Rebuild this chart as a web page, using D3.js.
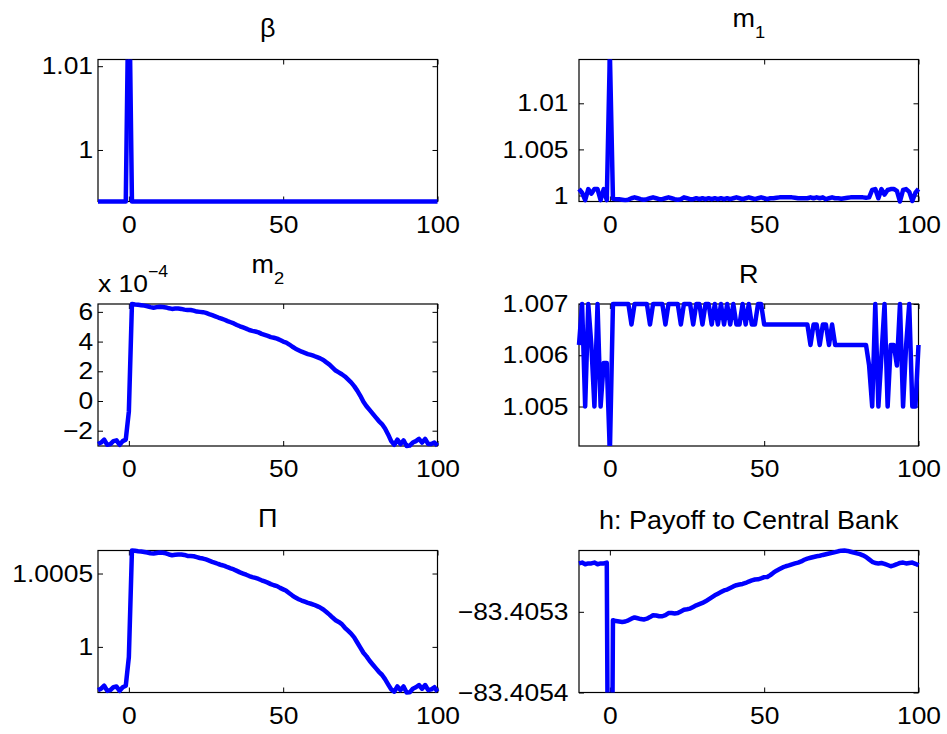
<!DOCTYPE html>
<html><head><meta charset="utf-8">
<script src="https://cdn.jsdelivr.net/npm/d3@7"></script>
<style>
body{margin:0;background:#fff}
svg{display:block}
text{font-family:"Liberation Sans",Arial,Helvetica,sans-serif;fill:#000}
</style>
</head><body>
<svg id="c" width="947" height="734"></svg>
<script>
// ---------- data ----------
const periods = d3.range(-10, 101);   // time index -10 .. 100
const xTicks = [0, 50, 100];
const xDomain = [-10, 100];

const beta = [
 0.99385,0.99385,0.99385,0.99385,0.99385,0.99385,0.99385,0.99385,0.99385,0.99385,
 1.0224,
 0.99385,0.99385,0.99385,0.99385,0.99385,0.99385,0.99385,0.99385,0.99385,0.99385,
 0.99385,0.99385,0.99385,0.99385,0.99385,0.99385,0.99385,0.99385,0.99385,0.99385,
 0.99385,0.99385,0.99385,0.99385,0.99385,0.99385,0.99385,0.99385,0.99385,0.99385,
 0.99385,0.99385,0.99385,0.99385,0.99385,0.99385,0.99385,0.99385,0.99385,0.99385,
 0.99385,0.99385,0.99385,0.99385,0.99385,0.99385,0.99385,0.99385,0.99385,0.99385,
 0.99385,0.99385,0.99385,0.99385,0.99385,0.99385,0.99385,0.99385,0.99385,0.99385,
 0.99385,0.99385,0.99385,0.99385,0.99385,0.99385,0.99385,0.99385,0.99385,0.99385,
 0.99385,0.99385,0.99385,0.99385,0.99385,0.99385,0.99385,0.99385,0.99385,0.99385,
 0.99385,0.99385,0.99385,0.99385,0.99385,0.99385,0.99385,0.99385,0.99385,0.99385,
 0.99385,0.99385,0.99385,0.99385,0.99385,0.99385,0.99385,0.99385,0.99385,0.99385
];
const betaLimits = [0.99385, 1.0108];
const betaTicks = [1, 1.01];
const betaTickLabels = ["1", "1.01"];

const m1 = [
 1.0007,1.0003,0.9995,1.0007,1.0002,1.0007,1.0007,0.9995,1.0007,0.9995,
 1.0155,
 0.99965,0.9996,0.9996,0.99955,0.9995,0.99955,0.9997,0.9998,0.9997,0.9996,
 0.99955,0.9996,0.9997,0.9998,0.9997,0.9996,0.9996,0.9997,0.9998,0.9997,
 0.9996,0.99955,0.9996,0.9998,0.9997,0.9996,0.9996,0.9997,0.9996,0.9997,
 0.9996,0.9997,0.9996,0.9997,0.9996,0.9997,0.9996,0.9997,0.9996,0.9997,
 0.9998,0.9997,0.9996,0.9997,0.9998,0.9997,0.9996,0.9997,0.9998,0.9997,
 0.9996,0.9997,0.9997,0.99975,0.9998,0.9998,0.9998,0.9998,0.9998,0.99975,
 0.9997,0.9997,0.9997,0.9997,0.9998,0.9997,0.9998,0.9997,0.9998,0.9996,
 0.9997,0.9998,0.9997,0.9997,0.99965,0.9997,0.99975,0.9998,0.9998,0.9998,
 0.9998,0.9998,0.99975,0.9998,1.0006,1.0007,0.9997,1.0007,1.0001,1.0006,
 1.0007,1.0007,1.0005,0.99935,1.0006,1.0007,1.0004,0.9994,1.0003,1.0007
];
const m1Limits = [0.99935, 1.01475];
const m1Ticks = [1, 1.005, 1.01];
const m1TickLabels = ["1", "1.005", "1.01"];

const m2 = [
 -2.9e-4,-2.8e-4,-2.6e-4,-2.95e-4,-2.9e-4,-2.7e-4,-2.65e-4,-2.95e-4,-2.7e-4,-2.6e-4,
 -0.7e-4,
 6.53e-4,6.5e-4,6.48e-4,6.45e-4,6.42e-4,6.38e-4,6.32e-4,6.28e-4,6.32e-4,6.35e-4,
 6.33e-4,6.3e-4,6.24e-4,6.2e-4,6.22e-4,6.23e-4,6.2e-4,6.15e-4,6.12e-4,6.13e-4,
 6.08e-4,6.02e-4,6.0e-4,5.98e-4,5.93e-4,5.85e-4,5.78e-4,5.7e-4,5.62e-4,5.55e-4,
 5.47e-4,5.38e-4,5.3e-4,5.22e-4,5.12e-4,5.03e-4,4.95e-4,4.87e-4,4.78e-4,4.72e-4,
 4.68e-4,4.62e-4,4.52e-4,4.45e-4,4.38e-4,4.3e-4,4.26e-4,4.2e-4,4.1e-4,4.0e-4,
 3.93e-4,3.8e-4,3.65e-4,3.52e-4,3.42e-4,3.32e-4,3.24e-4,3.16e-4,3.1e-4,3.03e-4,
 2.95e-4,2.87e-4,2.76e-4,2.6e-4,2.45e-4,2.25e-4,2.05e-4,1.93e-4,1.8e-4,1.65e-4,
 1.45e-4,1.25e-4,1.0e-4,0.7e-4,0.35e-4,-0.05e-4,-0.35e-4,-0.6e-4,-0.85e-4,-1.1e-4,
 -1.35e-4,-1.55e-4,-1.85e-4,-2.25e-4,-2.7e-4,-2.95e-4,-2.6e-4,-2.9e-4,-2.65e-4,-3.03e-4,
 -3.0e-4,-2.8e-4,-2.7e-4,-2.55e-4,-2.8e-4,-2.55e-4,-2.9e-4,-2.9e-4,-2.8e-4,-3.0e-4
];
const m2Limits = [-3.03e-4, 6.53e-4];
const m2Ticks = [-2e-4, 0, 2e-4, 4e-4, 6e-4];
const m2TickLabels = ["\u22122", "0", "2", "4", "6"];

const R = [
 1.0062,1.007,1.005,1.007,1.0062,1.005,1.007,1.005,1.00585,1.00585,
 1.0041,
 1.007,1.007,1.007,1.007,1.007,1.007,1.0066,1.007,1.007,1.007,
 1.007,1.007,1.0066,1.007,1.007,1.007,1.007,1.0066,1.007,1.007,
 1.007,1.007,1.0066,1.007,1.007,1.007,1.0066,1.007,1.007,1.0066,
 1.007,1.007,1.0066,1.007,1.0066,1.007,1.0066,1.007,1.0066,1.007,
 1.0066,1.0066,1.007,1.0066,1.007,1.0066,1.0066,1.007,1.007,1.0066,
 1.0066,1.0066,1.0066,1.0066,1.0066,1.0066,1.0066,1.0066,1.0066,1.0066,
 1.0066,1.0066,1.0066,1.0066,1.0062,1.0066,1.0066,1.0062,1.0066,1.0066,
 1.0062,1.0066,1.0062,1.0062,1.0062,1.0062,1.0062,1.0062,1.0062,1.0062,
 1.0062,1.0062,1.0062,1.0058,1.005,1.007,1.005,1.006,1.007,1.005,
 1.0062,1.0062,1.0058,1.007,1.005,1.0062,1.007,1.005,1.005,1.0062
];
const RLimits = [1.00423, 1.007];
const RTicks = [1.005, 1.006, 1.007];
const RTickLabels = ["1.005", "1.006", "1.007"];

const Pi = [
 0.999705,0.999715,0.999735,0.9997,0.999705,0.999725,0.99973,0.9997,0.999725,0.999735,
 0.999931,
 1.000657,1.000655,1.000652,1.00065,1.000647,1.000643,1.000638,1.000636,1.00064,1.000643,
 1.000642,1.000638,1.00063,1.000625,1.000628,1.00063,1.00063,1.000627,1.00062,1.00062,
 1.000618,1.000612,1.000606,1.000602,1.000596,1.000588,1.00058,1.000573,1.000565,1.000558,
 1.000552,1.000543,1.000535,1.000528,1.000518,1.000508,1.0005,1.000492,1.000483,1.000476,
 1.00047,1.000463,1.000454,1.000446,1.000438,1.000428,1.00042,1.000414,1.000402,1.000392,
 1.000382,1.000366,1.00035,1.000336,1.000325,1.000316,1.000308,1.0003,1.000294,1.000287,
 1.000278,1.000268,1.000255,1.000238,1.00022,1.0002,1.000182,1.00017,1.000155,1.00013,
 1.00011,1.00009,1.000065,1.00003,0.999995,0.99996,0.999935,0.999905,0.99988,0.999855,
 0.99983,0.99981,0.99978,0.999745,0.99971,0.999695,0.99973,0.999705,0.99973,0.999689,
 0.99969,0.999715,0.999725,0.99974,0.999715,0.99974,0.999705,0.99971,0.999725,0.999695
];
const PiLimits = [0.999689, 1.000657];
const PiTicks = [1, 1.0005];
const PiTickLabels = ["1", "1.0005"];

const h = [
 -83.40524,-83.405239,-83.405241,-83.40524,-83.40524,-83.405239,-83.405241,-83.40524,-83.40524,-83.405239,
 -83.4060,
 -83.4053104,-83.4053115,-83.405312,-83.4053125,-83.405312,-83.4053105,-83.4053085,-83.405307,-83.405308,-83.405309,
 -83.4053095,-83.4053085,-83.4053065,-83.4053042,-83.4053045,-83.4053055,-83.4053055,-83.405304,-83.4053015,-83.4053015,
 -83.405302,-83.4053015,-83.4052995,-83.4052975,-83.4052968,-83.405296,-83.405294,-83.405292,-83.4052905,-83.405289,
 -83.405287,-83.4052845,-83.405282,-83.4052795,-83.4052775,-83.4052755,-83.4052735,-83.4052724,-83.4052705,-83.4052685,
 -83.405267,-83.4052662,-83.4052655,-83.4052642,-83.4052625,-83.405261,-83.40526,-83.4052597,-83.4052585,-83.405257,
 -83.4052568,-83.4052545,-83.4052515,-83.405249,-83.405247,-83.405245,-83.4052435,-83.4052425,-83.4052412,-83.40524,
 -83.405239,-83.4052375,-83.4052355,-83.405234,-83.405233,-83.405232,-83.4052311,-83.4052305,-83.4052295,-83.4052286,
 -83.4052278,-83.405227,-83.405226,-83.405225,-83.4052242,-83.405224,-83.4052245,-83.4052255,-83.4052265,-83.4052275,
 -83.4052285,-83.40523,-83.405232,-83.405235,-83.405238,-83.4052395,-83.40524,-83.4052395,-83.4052405,-83.405242,
 -83.4052435,-83.4052425,-83.405241,-83.4052394,-83.405239,-83.40524,-83.4052394,-83.405239,-83.4052405,-83.4052423
];
const hLimits = [-83.4054, -83.405224];
const hTicks = [-83.4054, -83.4053];
const hTickLabels = ["\u221283.4054", "\u221283.4053"];

// ---------- layout ----------
const colX = [98, 579];
const rowY = [59.5, 304, 550.5];
const labelPad = [4.5, 9.5];
const W = 339.5, H = 142;
const SX = 1.1; // horizontal text stretch of the original figure

const panels = [
  {data: beta, lim: betaLimits, ticks: betaTicks, labels: betaTickLabels, col: 0, row: 0, title: "β", kind: "serif", tb: 37},
  {data: m1, lim: m1Limits, ticks: m1Ticks, labels: m1TickLabels, col: 1, row: 0, title: "m", sub: "1", tb: 27},
  {data: m2, lim: m2Limits, ticks: m2Ticks, labels: m2TickLabels, col: 0, row: 1, title: "m", sub: "2", tb: 273, exp: true},
  {data: R, lim: RLimits, ticks: RTicks, labels: RTickLabels, col: 1, row: 1, title: "R", tb: 283},
  {data: Pi, lim: PiLimits, ticks: PiTicks, labels: PiTickLabels, col: 0, row: 2, title: "Π", kind: "serif", tb: 527},
  {data: h, lim: hLimits, ticks: hTicks, labels: hTickLabels, col: 1, row: 2, title: "h: Payoff to Central Bank", tb: 529}
];

// clip a polyline geometrically to a rectangle (like MATLAB's axes clipping)
function clipSeg(a, b, r) {
  const dx = b[0] - a[0], dy = b[1] - a[1];
  let t0 = 0, t1 = 1;
  const P = [-dx, dx, -dy, dy];
  const Q = [a[0] - r.x0, r.x1 - a[0], a[1] - r.y0, r.y1 - a[1]];
  for (let i = 0; i < 4; i++) {
    if (P[i] === 0) { if (Q[i] < 0) return null; }
    else {
      const t = Q[i] / P[i];
      if (P[i] < 0) { if (t > t1) return null; if (t > t0) t0 = t; }
      else { if (t < t0) return null; if (t < t1) t1 = t; }
    }
  }
  return {p: [a[0] + t0 * dx, a[1] + t0 * dy], q: [a[0] + t1 * dx, a[1] + t1 * dy], t0, t1};
}
function clipPolyline(pts, r) {
  const out = []; let cur = null;
  for (let i = 0; i < pts.length - 1; i++) {
    const c = clipSeg(pts[i], pts[i + 1], r);
    if (!c) { cur = null; continue; }
    if (cur && c.t0 === 0) cur.push(c.q);
    else { cur = [c.p, c.q]; out.push(cur); }
    if (c.t1 < 1) cur = null;
  }
  return out;
}

const svg = d3.select("#c");
svg.append("rect").attr("width", 947).attr("height", 734).attr("fill", "#fff");

panels.forEach(p => {
  const x0 = colX[p.col], y0 = rowY[p.row];
  const x = d3.scaleLinear().domain(xDomain).range([0, W]);
  const y = d3.scaleLinear().domain(p.lim).range([H, 0]);
  const g = svg.append("g").attr("transform", `translate(${x0},${y0})`);

  g.append("rect").attr("width", W).attr("height", H)
    .attr("fill", "#fff").attr("stroke", "#000").attr("stroke-width", 1.2);

  const fmtY = d => p.labels[p.ticks.indexOf(d)];
  const styleAxis = sel => {
    sel.select(".domain").remove();
    sel.selectAll("line").attr("stroke", "#000").attr("stroke-width", 1);
    sel.selectAll("text").attr("font-size", 24)
      .attr("font-family", '"Liberation Sans", Arial, sans-serif')
      .attr("fill", "#000");
  };

  g.append("g").attr("transform", `translate(0,${H})`)
    .call(d3.axisBottom(x).tickValues(xTicks).tickSizeInner(-5).tickSizeOuter(0)
      .tickPadding(14).tickFormat(d3.format("d")))
    .call(styleAxis)
    .call(s => s.selectAll("text").attr("transform", `scale(${SX},1)`));
  g.append("g")
    .call(d3.axisTop(x).tickValues(xTicks).tickSizeInner(-5).tickSizeOuter(0).tickFormat(""))
    .call(styleAxis);
  g.append("g")
    .call(d3.axisLeft(y).tickValues(p.ticks).tickSizeInner(-5).tickSizeOuter(0)
      .tickPadding(labelPad[p.col]).tickFormat(fmtY))
    .call(styleAxis)
    .call(s => s.selectAll("text").attr("transform", `scale(${SX},1)`));
  g.append("g").attr("transform", `translate(${W},0)`)
    .call(d3.axisRight(y).tickValues(p.ticks).tickSizeInner(-5).tickSizeOuter(0).tickFormat(""))
    .call(styleAxis);

  const pts = p.data.map((v, i) => [x(periods[i]), y(v)]);
  const eps = 0.01;
  const pieces = clipPolyline(pts, {x0: -eps, x1: W + eps, y0: -eps, y1: H + eps});
  const line = d3.line();
  g.selectAll("path.series").data(pieces).join("path").attr("class", "series")
    .attr("d", line)
    .attr("fill", "none").attr("stroke", "#0000ff").attr("stroke-width", 4.5)
    .attr("stroke-linejoin", "round").attr("stroke-linecap", "butt");

  // title
  const cx = x0 + W / 2;
  const t = svg.append("text")
    .attr("transform", `translate(${cx},${p.tb}) scale(1.08,1)`)
    .attr("text-anchor", "middle").attr("font-size", 25);
  if (p.kind === "serif") t.attr("font-family", '"Liberation Serif", "Times New Roman", serif');
  t.append("tspan").text(p.title);
  if (p.sub) t.append("tspan").attr("font-size", 17).attr("dy", 11).text(p.sub);

  if (p.exp) {
    const e = svg.append("text")
      .attr("transform", `translate(${x0},292) scale(${SX},1)`)
      .attr("font-size", 24);
    e.append("tspan").text("x 10");
    e.append("tspan").attr("font-size", 16).attr("dy", -15).text("\u22124");
  }
});
</script>
</body></html>
